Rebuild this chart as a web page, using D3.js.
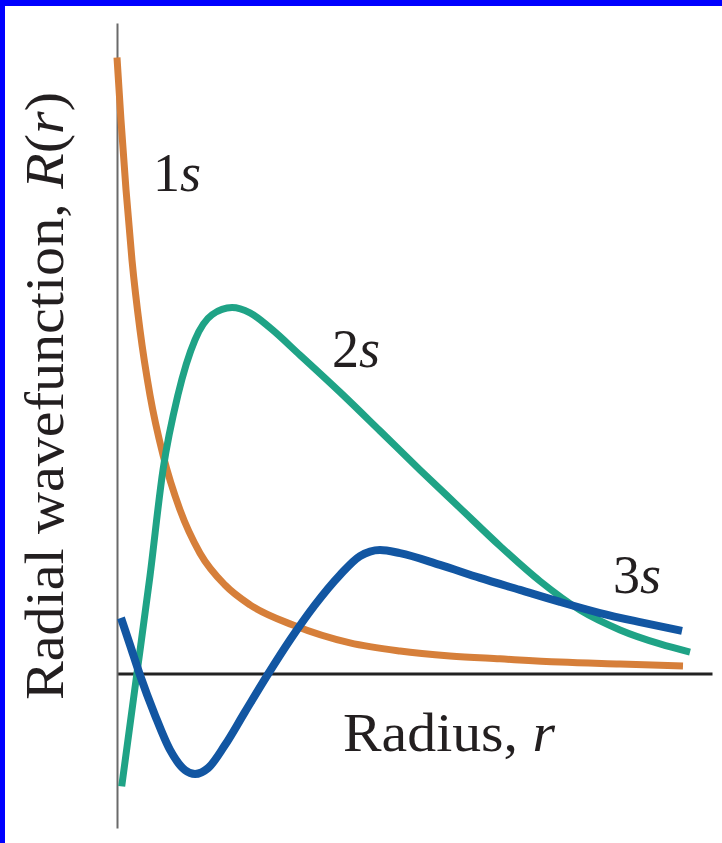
<!DOCTYPE html>
<html>
<head>
<meta charset="utf-8">
<script src="https://cdn.jsdelivr.net/npm/d3@7"></script>
<style>
  html, body { margin: 0; padding: 0; background: #fff; }
  svg { display: block; }
</style>
</head>
<body>
<div id="chart"></div>
<script>
// ---- data ----
// 1s radial wavefunction
const r1s = [0.000, 0.134, 0.303, 0.504, 0.773, 1.109, 1.546, 2.118, 2.790, 3.630, 4.471, 5.916, 7.832, 9.513, 11.193, 12.874, 14.891, 16.908, 19.025];
const R1s = [1.894, 1.702, 1.487, 1.271, 1.056, 0.856, 0.672, 0.503, 0.370, 0.272, 0.211, 0.149, 0.094, 0.069, 0.054, 0.045, 0.035, 0.029, 0.023];
// 2s radial wavefunction
const r2s = [0.158, 0.672, 1.109, 1.546, 2.050, 2.622, 3.193, 3.866, 4.471, 5.143, 6.151, 7.496, 8.840, 10.185, 11.529, 12.874, 14.218, 15.563, 16.908, 18.252, 19.261];
const R2s = [-0.347, 0.002, 0.300, 0.626, 0.857, 1.026, 1.103, 1.125, 1.109, 1.063, 0.979, 0.865, 0.746, 0.626, 0.509, 0.392, 0.284, 0.195, 0.134, 0.091, 0.066];
// 3s radial wavefunction
const r3s = [0.134, 0.437, 0.773, 1.277, 1.782, 2.286, 2.622, 3.059, 3.630, 4.303, 5.076, 5.815, 6.655, 7.496, 8.168, 8.840, 9.513, 10.857, 12.202, 13.546, 14.891, 16.235, 17.580, 18.992];
const R3s = [0.171, 0.088, -0.005, -0.128, -0.235, -0.297, -0.309, -0.291, -0.220, -0.118, -0.002, 0.103, 0.211, 0.303, 0.361, 0.380, 0.370, 0.334, 0.294, 0.257, 0.220, 0.186, 0.158, 0.131];

const seriesNames = ["1s", "2s", "3s"];
const seriesColors = ["#d67f3a", "#1fa386", "#1256a2"];

// ---- layout ----
const W = 722, H = 843;
const svg = d3.select("#chart").append("svg").attr("width", W).attr("height", H);

svg.append("rect").attr("width", W).attr("height", H).attr("fill", "#fff");
// blue frame (top and left)
svg.append("rect").attr("x", 0).attr("y", 0).attr("width", W).attr("height", 6).attr("fill", "#0000ff");
svg.append("rect").attr("x", 0).attr("y", 0).attr("width", 5).attr("height", H).attr("fill", "#0000ff");

const x = d3.scaleLinear().domain([0, 20]).range([117, 712]);
const y = d3.scaleLinear().domain([-0.475, 2.0]).range([828, 23]);

// axes (no ticks)
const gx = svg.append("g").attr("transform", `translate(0,${y(0)})`)
  .call(d3.axisBottom(x).ticks(0).tickSizeOuter(0));
gx.select(".domain").attr("stroke", "#222").attr("stroke-width", 3);
gx.selectAll(".tick").remove();

const gy = svg.append("g").attr("transform", `translate(${x(0)},0)`)
  .call(d3.axisLeft(y).ticks(0).tickSizeOuter(0));
gy.select(".domain").attr("stroke", "#6a6a6a").attr("stroke-width", 2);
gy.selectAll(".tick").remove();

// curves
const series = [
  { name: seriesNames[0], r: r1s, R: R1s, color: seriesColors[0], w: 7 },
  { name: seriesNames[1], r: r2s, R: R2s, color: seriesColors[1], w: 7 },
  { name: seriesNames[2], r: r3s, R: R3s, color: seriesColors[2], w: 8 }
];
const line = d3.line().x(d => x(d[0])).y(d => y(d[1])).curve(d3.curveMonotoneX);

svg.append("g").selectAll("path").data(series).join("path")
  .attr("d", s => line(s.r.map((v, i) => [v, s.R[i]])))
  .attr("fill", "none")
  .attr("stroke", s => s.color)
  .attr("stroke-width", s => s.w)
  .attr("stroke-linecap", "butt")
  .attr("stroke-linejoin", "round");

// series labels
const font = "'Liberation Serif', 'Times New Roman', serif";
const labelPos = [[153, 191], [332, 367], [613, 593]];
series.forEach((s, i) => {
  const t = svg.append("text")
    .attr("x", labelPos[i][0]).attr("y", labelPos[i][1])
    .attr("font-family", font).attr("font-size", 54).attr("fill", "#231f20");
  t.append("tspan").text(s.name[0]);
  t.append("tspan").attr("font-style", "italic").text(s.name.slice(1));
});

// x axis title
const xt = svg.append("text")
  .attr("x", 343).attr("y", 751)
  .attr("font-family", font).attr("font-size", 55).attr("fill", "#231f20")
  .attr("textLength", 212).attr("lengthAdjust", "spacingAndGlyphs");
xt.append("tspan").text("Radius, ");
xt.append("tspan").attr("font-style", "italic").text("r");

// y axis title
const yt = svg.append("text")
  .attr("transform", "translate(63,700) rotate(-90)")
  .attr("font-family", font).attr("font-size", 55).attr("fill", "#231f20")
  .attr("textLength", 608).attr("lengthAdjust", "spacingAndGlyphs");
yt.append("tspan").text("Radial wavefunction, ");
yt.append("tspan").attr("font-style", "italic").text("R");
yt.append("tspan").text("(");
yt.append("tspan").attr("font-style", "italic").text("r");
yt.append("tspan").text(")");
</script>
</body>
</html>
